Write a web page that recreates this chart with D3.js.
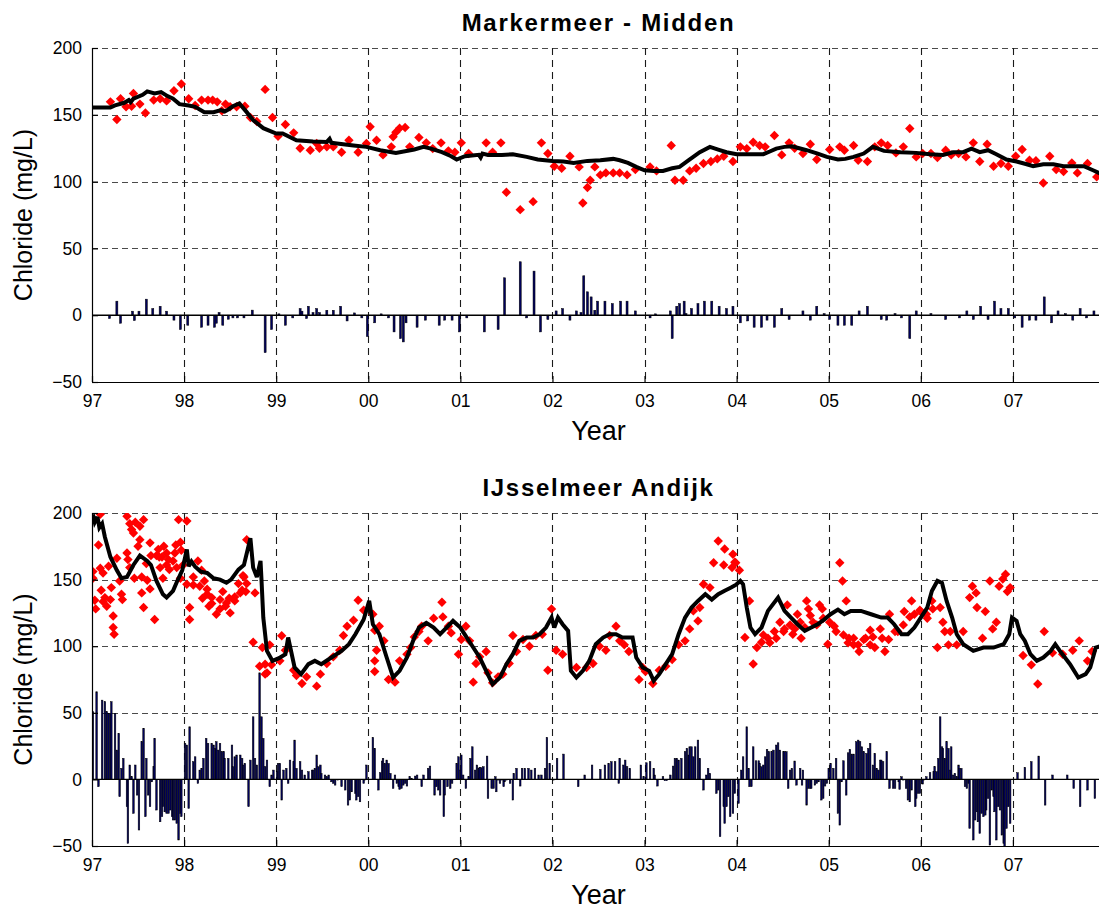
<!DOCTYPE html>
<html>
<head>
<meta charset="utf-8">
<script src="https://cdn.jsdelivr.net/npm/d3@7/dist/d3.min.js"></script>
<style>
  html, body { margin: 0; padding: 0; background: #fff; }
  svg { display: block; font-family: "Liberation Sans", Arial, Helvetica, sans-serif; }
</style>
</head>
<body>
<svg id="chart" width="1099" height="909"></svg>
<script>
// ---- axis content ----
const yearTicks = [1997, 1998, 1999, 2000, 2001, 2002, 2003, 2004, 2005, 2006, 2007];
const yearLabels = ["97", "98", "99", "00", "01", "02", "03", "04", "05", "06", "07"];
const valueTicks = [-50, 0, 50, 100, 150, 200];
const titles = ["Markermeer - Midden", "IJsselmeer Andijk"];
const yLabel = "Chloride (mg/L)";
const xLabel = "Year";

// ---- Markermeer - Midden ----
// measured chloride [decimal year, mg/L]
const topObs = [
  [1997.20,159.7],[1997.27,146.5],[1997.31,162],[1997.37,156],[1997.43,156.4],[1997.45,166],[1997.52,158],[1997.58,151.4],
  [1997.67,161],[1997.74,162],[1997.81,160.4],[1997.89,168],[1997.97,173],[1998.05,162],[1998.12,157],[1998.19,161],
  [1998.26,161],[1998.31,161],[1998.36,159.7],[1998.41,153],[1998.45,158],[1998.50,156],[1998.57,156],[1998.66,156.4],
  [1998.72,148],[1998.79,145],[1998.88,169],[1998.96,148],[1999.02,134],[1999.10,142.7],[1999.19,136.5],[1999.26,125],
  [1999.37,123.5],[1999.44,128.5],[1999.47,125],[1999.55,126],[1999.62,126],[1999.71,122],[1999.79,131],[1999.89,122],
  [1999.98,128.5],[2000.02,141],[2000.09,131],[2000.16,120],[2000.25,126],[2000.27,133.5],[2000.30,137],[2000.34,140],
  [2000.40,140.5],[2000.45,126],[2000.55,133],[2000.63,129],[2000.70,124.7],[2000.79,129],[2000.87,123],[2000.94,122],
  [2001.01,129],[2001.09,121],[2001.28,129],[2001.35,122],[2001.44,129],[2001.50,92],[2001.65,79],[2001.79,85],
  [2001.88,129],[2001.95,121],[2002.02,111.5],[2002.10,110],[2002.19,119],[2002.29,111],[2002.33,84],[2002.38,95.6],
  [2002.41,101],[2002.46,111],[2002.52,105],[2002.58,106.5],[2002.66,106.5],[2002.73,106.5],[2002.81,105],[2002.90,109],
  [2003.06,111],[2003.13,108],[2003.29,127],[2003.33,101],[2003.42,101],[2003.49,108],[2003.56,110],[2003.64,113.5],
  [2003.72,115],[2003.79,117],[2003.86,119],[2003.96,115],[2004.04,126],[2004.11,124.7],[2004.18,129.5],[2004.25,127],
  [2004.31,126],[2004.41,134.5],[2004.49,120],[2004.57,129],[2004.63,125],[2004.72,121],[2004.80,128],[2004.87,116.5],
  [2005.01,124],[2005.12,126],[2005.17,123.5],[2005.27,127],[2005.32,116],[2005.42,115],[2005.50,126],[2005.57,129],
  [2005.64,127],[2005.73,121.5],[2005.81,126],[2005.88,139.7],[2005.95,118.5],[2006.02,121],[2006.11,121],[2006.18,118],
  [2006.27,123.5],[2006.33,120],[2006.41,121],[2006.49,118.5],[2006.57,129],[2006.64,115],[2006.72,128],[2006.79,111.5],
  [2006.87,113.5],[2006.95,111.5],[2007.03,119],[2007.10,124],[2007.18,116],[2007.25,115.6],[2007.33,99],[2007.40,119],
  [2007.47,109],[2007.55,107.5],[2007.64,114],[2007.70,106.5],[2007.81,113.5],[2007.91,103.5]
];
// simulated chloride
const topModel = [
  [1997.00,155.5],[1997.20,155.5],[1997.25,157],[1997.35,159],[1997.40,161],[1997.42,159.5],[1997.45,162],[1997.55,165],
  [1997.60,167.5],[1997.68,166],[1997.75,167],[1997.82,164],[1997.88,162],[1997.95,158],[1998.05,157],[1998.12,156],
  [1998.22,152],[1998.32,152],[1998.40,153.5],[1998.44,152.5],[1998.48,154],[1998.53,156.4],[1998.60,158.5],[1998.68,152],
  [1998.75,146],[1998.86,140],[1999.00,136],[1999.07,136],[1999.22,131],[1999.40,130],[1999.55,129.7],[1999.58,132],
  [1999.60,129],[1999.66,128.5],[1999.84,127],[1999.98,126],[2000.13,123.5],[2000.30,121.5],[2000.50,124],[2000.60,126],
  [2000.68,124.7],[2000.80,122],[2000.90,119],[2000.96,116.5],[2001.05,119],[2001.20,120],[2001.22,118],[2001.24,121],
  [2001.30,120],[2001.45,120],[2001.57,120.5],[2001.72,118.5],[2001.84,116.5],[2002.00,115.5],[2002.12,115],[2002.23,114],
  [2002.38,115.5],[2002.52,116],[2002.66,117],[2002.73,116],[2002.82,114],[2002.91,111],[2003.00,108.5],[2003.10,108],
  [2003.20,108],[2003.30,110],[2003.38,111],[2003.48,116],[2003.60,122],[2003.71,126],[2003.80,124],[2003.89,122],
  [2004.00,120.5],[2004.14,120.5],[2004.29,120.5],[2004.36,122.5],[2004.43,124.7],[2004.52,126],[2004.60,126.5],
  [2004.68,125],[2004.76,123.5],[2004.88,121],[2004.98,118.5],[2005.10,116.5],[2005.18,117],[2005.27,118.5],[2005.38,121],
  [2005.48,126],[2005.60,123],[2005.78,122],[2005.95,121.5],[2006.10,120.5],[2006.24,120],[2006.35,122],[2006.46,122],
  [2006.55,124.7],[2006.64,122],[2006.73,123.5],[2006.82,120.5],[2006.93,116.5],[2007.04,115],[2007.15,113],[2007.22,111.5],
  [2007.33,113],[2007.44,113],[2007.55,111.5],[2007.66,111.5],[2007.77,111.5],[2007.87,108.5],[2007.95,106]
];
// residuals
const topResid = [
  [1997.19,-2.5],[1997.27,10.5],[1997.31,-6],[1997.44,3],[1997.46,-4],[1997.51,3],[1997.59,12],[1997.66,5],[1997.74,6.7],
  [1997.81,3],[1997.89,-3.7],[1997.96,-10.7],[1998.04,-7.5],[1998.19,-9],[1998.26,-7.5],[1998.33,-9],[1998.35,-6],[1998.38,2],
  [1998.42,-7.5],[1998.48,-3],[1998.53,-2],[1998.58,-2],[1998.65,-2],[1998.74,3.8],[1998.88,-28],[1998.95,-10.7],[1999.03,1],
  [1999.10,-7.5],[1999.18,-2],[1999.26,5],[1999.28,3],[1999.33,-2.5],[1999.35,6.7],[1999.40,2],[1999.44,5],[1999.47,2],
  [1999.55,3.7],[1999.62,3.7],[1999.70,6.7],[1999.77,-4.3],[1999.85,1.7],[1999.93,-2],[1999.99,-16],[2000.07,-5.7],[2000.14,1],
  [2000.22,-2],[2000.28,-12.5],[2000.35,-17.5],[2000.38,-20],[2000.41,-5.7],[2000.53,-9],[2000.62,-3.7],[2000.77,-7.5],
  [2000.83,-3.7],[2000.91,-3.7],[2000.99,-12.5],[2001.07,-2],[2001.26,-12.5],[2001.41,-10.7],[2001.48,28],[2001.65,40],
  [2001.72,-2],[2001.80,33],[2001.87,-12.5],[2001.95,-3.2],[2002.04,3.2],[2002.11,5],[2002.19,-3.7],[2002.26,3.2],[2002.31,2],
  [2002.34,29.5],[2002.38,17.5],[2002.42,13.7],[2002.46,3.7],[2002.49,10.5],[2002.57,10.5],[2002.65,8.7],[2002.74,10.5],
  [2002.81,10.5],[2002.90,3.2],[2003.06,-2],[2003.12,1],[2003.28,3.2],[2003.30,-17.5],[2003.35,6.7],[2003.38,8.7],[2003.43,10.5],
  [2003.45,1.2],[2003.51,5],[2003.58,8.7],[2003.65,10.5],[2003.73,10.5],[2003.81,6.7],[2003.89,5],[2003.96,6.7],[2004.04,-5.7],
  [2004.12,-4.3],[2004.19,-9],[2004.27,-9],[2004.33,-3.7],[2004.41,-9],[2004.49,5],[2004.57,-3.2],[2004.72,3.2],[2004.80,-3.7],
  [2004.87,6.7],[2004.95,1.2],[2005.01,-3.2],[2005.10,-7.5],[2005.17,-7.5],[2005.25,-7.5],[2005.33,3.2],[2005.42,6.7],
  [2005.57,-3.2],[2005.63,-3.7],[2005.72,1.2],[2005.79,-2],[2005.88,-17.5],[2005.95,3.2],[2006.11,1.2],[2006.27,-3.2],
  [2006.42,-2],[2006.50,3.2],[2006.57,-3.2],[2006.65,6.7],[2006.73,-3.2],[2006.80,10.5],[2006.87,5],[2006.95,5],[2007.02,-2],
  [2007.10,-9],[2007.18,-3.7],[2007.25,-3.7],[2007.34,13.7],[2007.42,-5.7],[2007.49,3.2],[2007.57,1.2],[2007.65,-3.7],
  [2007.73,5],[2007.80,-2],[2007.88,3.2]
];

// ---- IJsselmeer Andijk ----
const botObs = [
  [1997.01,156],[1997.01,151],[1997.07,176],[1997.04,128],[1997.09,199],[1997.12,155],[1997.14,136.5],[1997.16,130],
  [1997.18,160],[1997.21,144],[1997.23,122.7],[1997.23,114],[1997.24,109],[1997.27,166],[1997.30,149],[1997.32,139],
  [1997.33,135],[1997.38,197.6],[1997.38,170],[1997.39,165],[1997.43,187.6],[1997.45,185],[1997.41,159],[1997.46,151],
  [1997.50,175],[1997.52,190],[1997.56,195],[1997.54,152],[1997.54,140],[1997.56,129],[1997.60,149.5],[1997.63,177.6],
  [1997.63,143],[1997.64,168],[1997.68,120],[1997.72,172.7],[1997.73,167],[1997.74,159],[1997.77,151],[1997.78,175],
  [1997.81,161],[1997.83,165],[1997.84,157.5],[1997.90,170],[1997.91,176],[1997.94,195],[1997.96,178],[1997.97,172],
  [1997.03,134.5],[1997.10,142],[1997.12,133.5],[1997.20,135],[1997.09,158.5],[1997.41,192],[1997.47,193],[1997.52,180],
  [1997.59,162],[1997.70,168],[1997.76,167],[1997.81,170],[1997.88,164],[1997.92,159],[1997.99,161],[1997.96,151],
  [1998.03,194],[1998.03,146.5],[1998.06,129],[1998.06,120],[1998.10,146],[1998.15,164],[1998.17,145],[1998.20,136],
  [1998.22,149],[1998.25,142.7],[1998.27,130],[1998.30,136.5],[1998.35,124],[1998.39,128],[1998.42,141],[1998.45,130],
  [1998.49,136],[1998.50,125],[1998.55,137],[1998.59,147],[1998.63,142],[1998.65,152],[1998.68,180],[1998.67,141],
  [1998.10,152],[1998.19,157],[1998.25,139],[1998.30,132],[1998.39,135],[1998.46,132.5],[1998.55,134],[1998.61,140],
  [1998.68,147],[1998.64,153],
  [1998.75,103],[1998.77,140],[1998.82,85],[1998.88,79],[1998.85,99],[1998.93,101],[1998.95,86],[1999.04,89],
  [1998.88,86.5],[1998.90,80],
  [1999.06,107.8],[1999.10,97],[1999.19,82],[1999.22,78],[1999.28,72],[1999.33,77],[1999.44,70],[1999.48,79],
  [1999.55,87],[1999.62,92],[1999.69,97],[1999.73,108],[1999.77,115],[1999.84,119.5],[1999.89,134.5],[1999.95,127],
  [2000.05,124],[2000.07,112],[2000.09,97],[2000.07,81],[2000.07,89],[2000.12,115],[2000.17,104],[2000.22,75],[2000.29,73],
  [2000.34,89],[2000.42,94],[2000.46,99],[2000.50,107],[2000.55,111],[2000.58,115],[2000.65,104],[2000.71,121],
  [2000.80,133],[2000.81,122],[2000.87,115],[2000.90,110],[2000.98,94],[2001.01,105],[2001.06,115],[2001.10,104],
  [2001.14,73],[2001.17,87],[2001.21,92],[2001.28,96],[2001.30,80],[2001.35,72.5],[2001.41,77],[2001.46,79],
  [2001.53,87],[2001.57,108],[2001.61,96],[2001.68,105],[2001.75,100],[2001.82,108],[2001.89,109],[2001.95,82],
  [2001.99,128],[2002.04,97],[2002.11,94],[2002.26,84],[2002.37,84],[2002.44,87],[2002.51,100],[2002.58,97],
  [2002.62,108],[2002.69,115],[2002.73,104],[2002.78,101],[2002.83,96],[2002.94,75],[2002.98,84],[2003.01,81],
  [2003.09,72],[2003.16,82],[2003.23,85],[2003.30,90],[2003.37,101],[2003.44,104],[2003.49,113],[2003.53,126.5],
  [2003.58,119],[2003.60,129],[2003.64,146.5],[2003.71,144],[2003.75,162.7],[2003.80,179],[2003.87,173],[2003.86,161],
  [2003.95,159],[2003.96,169],[2003.99,162.6],[2003.98,163],[2004.03,157],[2004.14,134],[2004.09,106.5],[2004.18,86.6],
  [2004.22,99],[2004.27,103],[2004.34,106],[2004.41,111],[2004.47,118],[2004.52,113],[2004.55,131],[2004.61,109],
  [2004.66,124],[2004.70,106],[2004.76,134],[2004.78,128],[2004.83,118],[2004.90,131],[2004.93,128],[2004.99,101.5],
  [2004.29,108.5],[2004.36,102.5],[2004.43,106],[2004.51,111],[2004.58,116],[2004.63,113],[2004.69,118],[2004.74,114],
  [2004.80,123],[2004.87,116],[2004.94,121],
  [2005.01,118],[2005.06,115],[2005.12,162.7],[2005.15,149],[2005.19,134],[2005.22,106],[2005.27,101],[2005.33,96],
  [2005.40,106],[2005.45,112],[2005.50,99],[2005.58,106],[2005.61,96],[2005.66,124],[2005.75,111],[2005.82,126],
  [2005.08,111],[2005.16,108.5],[2005.21,102.5],[2005.27,106],[2005.32,101],[2005.38,105],[2005.45,101],[2005.48,107],
  [2005.56,113],[2005.65,105],[2005.72,111],[2005.81,116],[2005.88,122],[2005.99,127],
  [2005.90,134],[2005.93,124],[2006.00,126],[2006.07,121],[2006.12,134],[2006.18,99],[2006.21,129],[2006.26,111],
  [2006.30,101],[2006.39,101],[2006.46,111],[2006.53,136.5],[2006.56,145],[2006.60,140],[2006.61,129],[2006.67,106],
  [2006.06,124],[2006.13,128],[2006.24,118],[2006.32,111],
  [2006.70,126],[2006.75,149],[2006.78,113],[2006.82,118],[2006.85,145],[2006.89,150.5],[2006.92,154],[2006.94,141],
  [2006.97,144],[2007.11,93],[2007.20,86],[2007.27,71.6],[2007.34,111],[2007.43,95],[2007.54,94],[2007.65,97],
  [2007.72,104],[2007.81,89],[2007.86,96]
];
const botModel = [
  [1997.01,199],[1997.03,193],[1997.06,197],[1997.08,189],[1997.11,192],[1997.14,182],[1997.20,167],[1997.27,157],
  [1997.32,151],[1997.38,152],[1997.45,161],[1997.52,168],[1997.60,164],[1997.64,161],[1997.70,149],[1997.77,139],
  [1997.81,136.5],[1997.88,141.6],[1997.92,148],[1997.98,157],[1998.03,172.7],[1998.05,160],[1998.08,163.6],[1998.12,159.7],
  [1998.18,156],[1998.25,155],[1998.32,151],[1998.39,150],[1998.46,147.6],[1998.51,150],[1998.59,157.5],[1998.65,161],
  [1998.72,181],[1998.75,159],[1998.79,152],[1998.83,164],[1998.84,150.5],[1998.86,121.5],[1998.90,96.5],[1998.96,89],
  [1999.03,91],[1999.10,94],[1999.13,106.5],[1999.20,84],[1999.27,79],[1999.35,86.5],[1999.42,89],[1999.49,86.5],
  [1999.60,91.5],[1999.71,96.5],[1999.79,101.5],[1999.86,109],[1999.95,120],[2000.01,134],[2000.05,116.5],[2000.12,109],
  [2000.20,91.5],[2000.27,76.5],[2000.34,81.5],[2000.42,91.5],[2000.50,106.5],[2000.55,114],[2000.63,117.5],[2000.71,114],
  [2000.78,109],[2000.85,114],[2000.92,119],[2001.00,114],[2001.07,106.5],[2001.14,99],[2001.21,91.5],[2001.28,81.5],
  [2001.35,71.5],[2001.43,76.5],[2001.50,86.5],[2001.57,94],[2001.64,104],[2001.72,106.5],[2001.79,106.5],[2001.86,109],
  [2001.93,114],[2001.99,121.5],[2002.02,114],[2002.06,121.5],[2002.11,116.5],[2002.17,111.5],[2002.20,81.5],[2002.26,76.5],
  [2002.33,81.5],[2002.40,89],[2002.47,101.5],[2002.55,106.5],[2002.62,109],[2002.69,109],[2002.76,106.5],[2002.87,106.5],
  [2002.91,91.5],[2002.98,84],[2003.05,81.5],[2003.10,74],[2003.16,79],[2003.23,86.5],[2003.30,94],[2003.37,109],
  [2003.44,121.5],[2003.51,129],[2003.58,134],[2003.66,139],[2003.73,135],[2003.80,139],[2003.87,141.6],[2003.94,144],
  [2003.99,146],[2004.04,149],[2004.07,146.5],[2004.11,129],[2004.15,114],[2004.20,109],[2004.27,114],[2004.34,126.5],
  [2004.45,136.5],[2004.52,126.5],[2004.59,121.5],[2004.66,116.5],[2004.74,111.5],[2004.81,114],[2004.88,116.5],
  [2004.95,120],[2005.02,124],[2005.10,127.5],[2005.17,124],[2005.24,126.5],[2005.35,126.5],[2005.46,124],[2005.57,121.5],
  [2005.64,121.5],[2005.71,116.5],[2005.79,109],[2005.86,109],[2005.93,114],[2006.00,121.5],[2006.07,129],[2006.12,141.5],
  [2006.18,149],[2006.23,147.5],[2006.28,134],[2006.34,121.5],[2006.39,109],[2006.46,101.5],[2006.57,96.5],[2006.68,99],
  [2006.79,99],[2006.90,101.5],[2006.96,109],[2006.99,121.5],[2007.04,119],[2007.08,109],[2007.13,104],[2007.19,94],
  [2007.26,89],[2007.33,91.5],[2007.41,96.5],[2007.46,101.5],[2007.51,96.5],[2007.62,86.5],[2007.71,76.5],[2007.79,79],
  [2007.84,84],[2007.90,99],[2007.95,100]
];
const botResid = [
  [1997.01,50.8],[1997.05,65.8],[1997.07,-5.5],[1997.11,59.5],[1997.14,58.3],[1997.16,50.8],[1997.18,49.5],[1997.20,49.5],
  [1997.21,58.3],[1997.25,49.5],[1997.27,22],[1997.29,34.5],[1997.30,-13],[1997.32,8.3],[1997.34,15.8],[1997.38,-20.5],
  [1997.39,-48],[1997.41,10.8],[1997.43,2],[1997.45,-25.5],[1997.47,10.8],[1997.49,-11.8],[1997.51,-38],[1997.54,28.3],
  [1997.56,38.3],[1997.58,-28],[1997.59,15.8],[1997.61,-11.8],[1997.63,-20.5],[1997.65,-1.8],[1997.67,9.5],[1997.68,30.8],
  [1997.70,-23],[1997.74,-31.8],[1997.76,-28],[1997.77,-20.5],[1997.79,-24.3],[1997.81,-25.5],[1997.83,-25.5],[1997.85,-23],
  [1997.87,-28],[1997.88,-30.5],[1997.90,-30.5],[1997.92,-33],[1997.94,-45.5],[1997.96,-25.5],[1997.97,-28],[1998.01,27],
  [1998.03,25.8],[1998.05,-21.8],[1998.06,39.5],[1998.10,13.3],[1998.12,17],[1998.15,-3],[1998.17,7],[1998.19,8.3],
  [1998.21,15.8],[1998.24,30.8],[1998.26,27],[1998.30,27],[1998.32,25.8],[1998.34,23.3],[1998.35,28.3],[1998.37,22],
  [1998.39,27],[1998.41,20.8],[1998.43,20.8],[1998.44,15.8],[1998.48,15.8],[1998.52,25.8],[1998.53,9.5],[1998.55,17],
  [1998.57,18.3],[1998.61,18.3],[1998.63,15.8],[1998.64,10.8],[1998.66,12],[1998.70,-20.5],[1998.72,14.5],[1998.75,47],
  [1998.77,15.8],[1998.79,10.8],[1998.82,80],[1998.84,47],[1998.86,30.8],[1998.88,9.5],[1998.90,14.5],[1998.93,-5.5],
  [1998.95,3.3],[1998.97,7],[1999.01,5.8],[1999.02,12],[1999.04,12],[1999.06,-15.5],[1999.08,7],[1999.11,8.3],
  [1999.13,-3],[1999.15,14.5],[1999.19,13.3],[1999.20,29.5],[1999.22,8.3],[1999.26,13.3],[1999.28,7],[1999.31,3.3],
  [1999.35,5.8],[1999.39,7],[1999.40,7],[1999.42,8.3],[1999.44,18.3],[1999.46,9.5],[1999.48,10.8],[1999.49,4.5],
  [1999.53,3.3],[1999.55,2],[1999.57,3.3],[1999.60,-1.8],[1999.62,-3],[1999.64,-4.3],[1999.67,-0.5],[1999.71,-5.5],
  [1999.75,-8],[1999.78,-19.3],[1999.80,-15.5],[1999.82,-9.3],[1999.86,-10.5],[1999.87,-15.5],[1999.89,-13],[1999.91,-16.8],
  [1999.95,-3],[1999.96,-0.5],[1999.98,10.8],
  [2000.05,31.5],[2000.07,23.3],[2000.11,-8],[2000.13,5],[2000.15,13.8],[2000.16,15.8],[2000.18,12],[2000.20,14.5],
  [2000.22,12],[2000.24,4.5],[2000.27,-6.8],[2000.29,3.3],[2000.31,-3],[2000.33,-5.5],[2000.34,-7.5],[2000.36,-6.8],
  [2000.38,-4.3],[2000.40,-3],[2000.42,-5],[2000.45,2],[2000.47,0.8],[2000.51,2.5],[2000.53,3.3],[2000.58,-5.5],
  [2000.60,3.3],[2000.65,8.3],[2000.67,10],[2000.72,-11.8],[2000.74,-5.5],[2000.76,-8],[2000.78,-11.8],[2000.82,-28],
  [2000.83,-11.8],[2000.86,-5.5],[2000.89,-6.8],[2000.91,-3],[2000.96,12],[2000.98,17],[2001.00,7],[2001.01,18.3],
  [2001.03,3.3],[2001.06,-6.8],[2001.09,2],[2001.11,15.8],[2001.13,24.5],[2001.16,7],[2001.18,10.8],[2001.20,8.3],
  [2001.21,8.8],[2001.23,8.8],[2001.25,9.5],[2001.29,17.5],[2001.30,-14.3],[2001.34,-6.8],[2001.36,-6.8],[2001.38,2],
  [2001.39,-9.3],[2001.41,-0.5],[2001.43,-3],[2001.45,-0.5],[2001.47,-5.5],[2001.48,-1.8],[2001.50,-0.5],[2001.54,-3],
  [2001.57,-15.5],[2001.58,4.5],[2001.61,8.3],[2001.65,-5],[2001.67,8.3],[2001.70,8.3],[2001.74,8.3],[2001.77,7],
  [2001.81,8.3],[2001.85,3.3],[2001.88,3.3],[2001.92,8.3],[2001.94,31.5],[2001.97,12],[2002.01,-0.5],[2002.05,15.8],
  [2002.12,19],[2002.28,-5.5],[2002.35,3.3],[2002.43,10.8],[2002.52,7.5],[2002.57,10.8],[2002.61,12],[2002.64,13.3],
  [2002.68,13.3],[2002.72,-3],[2002.73,15.8],[2002.77,10.8],[2002.79,14.5],[2002.81,9.5],[2002.84,8.3],[2002.96,10.8],
  [2002.99,2],[2003.02,12.5],[2003.06,13.3],[2003.10,8.3],[2003.11,3.3],[2003.14,-5],[2003.20,2],[2003.22,-1],
  [2003.24,-1],[2003.28,3.3],[2003.31,10],[2003.33,15.8],[2003.35,15.8],[2003.37,14.5],[2003.40,15.8],[2003.44,20.8],
  [2003.46,23.3],[2003.48,18.3],[2003.49,24.5],[2003.51,24.5],[2003.53,17],[2003.55,24.5],[2003.58,29.5],[2003.60,15.8],
  [2003.64,-8],[2003.67,3.3],[2003.69,8.3],[2003.71,4.5],[2003.78,-10.5],[2003.80,-8],[2003.82,-43],[2003.86,-20.5],
  [2003.87,-33],[2003.89,-20.5],[2003.91,-13],[2003.93,-28],[2003.96,-25.5],[2003.98,-10.5],
  [2004.02,-18],[2004.05,7],[2004.07,17],[2004.11,39.5],[2004.13,8.3],[2004.14,-5.5],[2004.16,-5.5],[2004.18,24.5],
  [2004.21,14],[2004.24,14],[2004.25,12],[2004.27,9.5],[2004.29,10.8],[2004.31,17],[2004.33,22.5],[2004.35,20.8],
  [2004.38,20.8],[2004.40,22],[2004.43,25.8],[2004.45,27.5],[2004.47,22],[2004.51,20.8],[2004.52,20.8],[2004.54,20.8],
  [2004.56,-6.8],[2004.58,7],[2004.60,8.3],[2004.63,13.8],[2004.65,-4.3],[2004.69,8.3],[2004.71,-4.3],[2004.72,7],
  [2004.76,-19.3],[2004.78,-6.8],[2004.80,-6.8],[2004.81,-6.8],[2004.85,-4.3],[2004.87,-3],[2004.89,-1.8],[2004.92,-15.5],
  [2004.94,-14.3],[2004.96,-5],[2004.98,-3],[2005.00,8.3],[2005.02,12],[2005.05,8.3],[2005.08,15.8],[2005.10,-25.5],
  [2005.12,-34.3],[2005.14,-1.8],[2005.16,14],[2005.19,-11.8],[2005.21,20],[2005.23,22.5],[2005.25,19],[2005.27,19],
  [2005.30,28.3],[2005.32,29.5],[2005.34,28.3],[2005.36,24.5],[2005.38,20.8],[2005.41,19.5],[2005.43,23.3],[2005.45,27],
  [2005.48,10.8],[2005.50,19.5],[2005.52,8.3],[2005.54,7],[2005.56,14.5],[2005.57,14.5],[2005.59,13.3],[2005.63,20.8],
  [2005.66,-6.8],[2005.68,-0.5],[2005.70,-6.8],[2005.72,-6.8],[2005.76,-1.8],[2005.77,-7.5],[2005.79,2],[2005.81,-0.5],
  [2005.84,-6.8],[2005.86,-15.5],[2005.88,-16.8],[2005.90,-8],[2005.94,-20.5],[2005.95,-14.3],[2005.97,-10.5],[2005.99,-10.5],
  [2006.02,-3.5],[2006.03,-0.5],[2006.06,2],[2006.10,5],[2006.14,5.8],[2006.15,9.5],[2006.17,5.8],[2006.19,15.8],
  [2006.21,47],[2006.23,24.5],[2006.24,23.3],[2006.26,15.8],[2006.28,28.3],[2006.30,23.3],[2006.32,7],[2006.33,24.5],
  [2006.35,3.3],[2006.37,4.5],[2006.39,2],[2006.41,10.8],[2006.42,8.3],[2006.44,8.3],[2006.48,-5.5],[2006.50,-6.8],
  [2006.52,-3],[2006.53,-36.8],[2006.57,-45.5],[2006.59,-30.5],[2006.61,-24.3],[2006.62,-31.8],[2006.64,-40.5],[2006.66,-25.5],
  [2006.68,-28],[2006.70,-26.8],[2006.71,-23],[2006.73,-14.3],[2006.75,-49.3],[2006.77,-8],[2006.79,-13],[2006.80,-24.3],
  [2006.82,-45.5],[2006.84,-20.5],[2006.86,-23],[2006.88,-41.8],[2006.90,-48],[2006.91,-51.8],[2006.93,-36.8],[2006.95,-20.5],
  [2006.97,-33],[2007.05,5],[2007.13,9],[2007.20,13.3],[2007.28,17.5],[2007.35,-19.3],[2007.43,3.3],[2007.59,3.3],
  [2007.66,-6.8],[2007.73,-20.5],[2007.81,-8],[2007.89,-14.3]
];

// ---- layout ----
const W = 1099, H = 909;
const plotLeft = 92, plotRight = 1105;
const panels = [
  { title: titles[0], obs: topObs, model: topModel, resid: topResid, top: 48,  bottom: 382, barW: 2.0 },
  { title: titles[1], obs: botObs, model: botModel, resid: botResid, top: 513, bottom: 846, barW: 1.6 }
];

const svg = d3.select("#chart");
svg.append("rect").attr("width", W).attr("height", H).attr("fill", "#fff");

const x = d3.scaleLinear().domain([1997, 2008]).range([plotLeft, plotRight]);

const diamond = r => `M0,${-r}L${r},0L0,${r}L${-r},0Z`;

panels.forEach((p, i) => {
  const y = d3.scaleLinear().domain([-50, 200]).range([p.bottom, p.top]);
  const g = svg.append("g");
  const clipId = "clip" + i;
  svg.append("clipPath").attr("id", clipId)
    .append("rect").attr("x", plotLeft).attr("y", p.top)
    .attr("width", plotRight - plotLeft).attr("height", p.bottom - p.top);

  // dashed grid
  const grid = g.append("g");
  grid.selectAll("line.gy").data(valueTicks.filter(v => v > -50)).join("line")
    .attr("x1", plotLeft).attr("x2", plotRight)
    .attr("y1", d => Math.round(y(d)) + 0.5).attr("y2", d => Math.round(y(d)) + 0.5)
    .attr("stroke", "#4a4a4a").attr("stroke-width", 1.1).attr("stroke-dasharray", "6,4");
  grid.selectAll("line.gx").data(yearTicks.slice(1)).join("line")
    .attr("x1", d => Math.round(x(d)) + 0.5).attr("x2", d => Math.round(x(d)) + 0.5)
    .attr("y1", p.top).attr("y2", p.bottom)
    .attr("stroke", "#1a1a1a").attr("stroke-width", 1.1).attr("stroke-dasharray", "7,5");

  const plot = g.append("g").attr("clip-path", `url(#${clipId})`);

  // residual bars
  plot.append("g").selectAll("rect").data(p.resid).join("rect")
    .attr("x", d => x(d[0]) - p.barW / 2)
    .attr("width", p.barW)
    .attr("y", d => y(Math.max(0, d[1])))
    .attr("height", d => Math.abs(y(d[1]) - y(0)))
    .attr("fill", "#00005c").attr("stroke", "#000").attr("stroke-width", 0.5);

  // zero baseline
  plot.append("line")
    .attr("x1", plotLeft).attr("x2", plotRight)
    .attr("y1", y(0)).attr("y2", y(0))
    .attr("stroke", "#000").attr("stroke-width", 1.4);

  // measured values
  plot.append("g").selectAll("path").data(p.obs).join("path")
    .attr("d", diamond(4.7))
    .attr("transform", d => `translate(${x(d[0])},${y(d[1])})`)
    .attr("fill", "#ff0000");

  // simulated values
  plot.append("path").datum(p.model)
    .attr("d", d3.line().x(d => x(d[0])).y(d => y(d[1])))
    .attr("fill", "none").attr("stroke", "#000").attr("stroke-width", 4)
    .attr("stroke-linejoin", "miter").attr("stroke-miterlimit", 3);

  // axes with inward ticks
  const yAxis = d3.axisLeft(y).tickValues(valueTicks).tickSize(-6).tickPadding(10);
  const ya = g.append("g").attr("transform", `translate(${plotLeft},0)`).call(yAxis);
  const xAxis = d3.axisBottom(x).tickValues(yearTicks).tickSize(-6).tickPadding(13)
    .tickFormat((d, k) => yearLabels[k]);
  const xa = g.append("g").attr("transform", `translate(0,${p.bottom})`).call(xAxis);
  [ya, xa].forEach(a => {
    a.select(".domain").attr("stroke", "#000").attr("stroke-width", 1.2);
    a.selectAll(".tick line").attr("stroke", "#000").attr("stroke-width", 1.2);
    a.selectAll(".tick text").attr("fill", "#000").attr("font-size", 17.5)
      .attr("font-family", "'Liberation Sans', Arial, sans-serif");
  });
  ya.select(".domain").attr("d", `M0.5,${p.top}V${p.bottom}`);
  xa.select(".domain").attr("d", `M${plotLeft},0.5H${plotRight}`);

  // panel title
  svg.append("text").attr("x", (plotLeft + plotRight) / 2).attr("y", p.top - 17)
    .attr("text-anchor", "middle").attr("font-size", 24).attr("font-weight", "bold")
    .attr("letter-spacing", 1.7).attr("fill", "#000").text(p.title);

  // axis titles
  svg.append("text").attr("x", (plotLeft + plotRight) / 2).attr("y", p.bottom + 58)
    .attr("text-anchor", "middle").attr("font-size", 27).attr("fill", "#000").text(xLabel);
  svg.append("text")
    .attr("transform", `translate(32,${(p.top + p.bottom) / 2}) rotate(-90)`)
    .attr("text-anchor", "middle").attr("font-size", 25).attr("fill", "#000").text(yLabel);
});
</script>
</body>
</html>
